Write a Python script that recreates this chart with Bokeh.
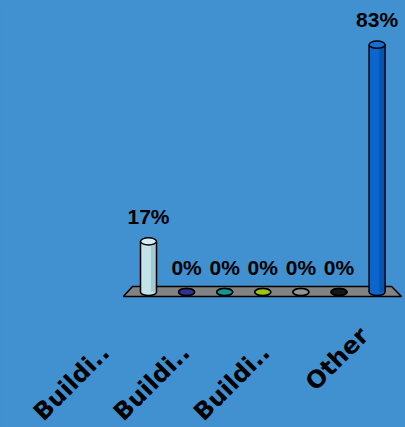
from math import pi
from bokeh.plotting import figure
from bokeh.models import ColumnDataSource
from bokeh.core.properties import value
from bokeh.embed import file_html
from bokeh.resources import INLINE

# ---- data ----
categories = ["Building 1", "Building 2", "Building 3", "Building 4",
              "Building 5", "Building 6", "Other"]
values = [17, 0, 0, 0, 0, 0, 83]
bar_colors = ["#c2e4e8", "#2c2c84", "#128a8a", "#9ab812", "#8a8a8a", "#111111", "#0a66cc"]
shade_colors = ["#a2cad2", "#22226c", "#0c7070", "#7e9a0c", "#727272", "#000000", "#0654b0"]
top_colors = ["#d4eef0", "#33338e", "#159494", "#a2c016", "#949494", "#161616", "#1470d4"]
tick_positions = [1, 3, 5, 7]
tick_labels = ["Buildi..", "Buildi..", "Buildi..", "Other"]

BG = "#4190d0"
n = len(categories)
xs = list(range(1, n + 1))

p = figure(width=405, height=427, output_backend="svg", toolbar_location=None,
           x_range=(-2.8845, 7.7454), y_range=(-45.47, 97.82),
           x_axis_type=None, y_axis_type=None, min_border=0)
p.background_fill_color = BG
p.border_fill_color = BG
p.outline_line_color = None
p.grid.visible = False

# floor (3D base plane)
p.patch([1 - 0.66, 1 - 0.42, n + 0.38, n + 0.64], [-1.5, 1.85, 1.85, -1.5],
        fill_color="#828282", line_color="black", line_width=1.5)

hw = 0.21   # half width of cylinder in x units
eh = 2.4    # ellipse height in y units
src = ColumnDataSource(dict(
    x=xs, v=values, zero=[0] * n,
    left=[x - hw for x in xs], right=[x + hw for x in xs],
    sl=[x + 0.06 for x in xs],
    color=bar_colors, shade=shade_colors, top=top_colors,
    lab=[f"{v}%" for v in values],
))

p.ellipse(x="x", y="zero", width=2 * hw, height=eh, source=src,
          fill_color="color", line_color="black", line_width=1.5)
p.quad(left="left", right="right", bottom="zero", top="v", source=src,
       fill_color="color", line_color=None)
p.quad(left="sl", right="right", bottom="zero", top="v", source=src,
       fill_color="shade", line_color=None)
p.segment(x0="left", y0="zero", x1="left", y1="v", source=src,
          line_color="black", line_width=1.5)
p.segment(x0="right", y0="zero", x1="right", y1="v", source=src,
          line_color="black", line_width=1.5)
p.ellipse(x="x", y="v", width=2 * hw, height=eh, source=src,
          fill_color="top", line_color="black", line_width=1.5)

# value labels
p.text(x="x", y="v", text="lab", source=src, text_align="center",
       text_baseline="alphabetic", y_offset=-25,
       text_font=value("Liberation Sans"), text_font_style="bold",
       text_font_size="21px", text_color="black")

# category labels (rotated)
lab_dx = [-77, -73, -69, -40]
lab_dy = [90.5, 90.5, 90.5, 67]
lsrc = ColumnDataSource(dict(x=tick_positions, y=[0] * len(tick_positions),
                             text=tick_labels, dx=lab_dx, dy=lab_dy))
p.text(x="x", y="y", text="text", source=lsrc, x_offset="dx", y_offset="dy",
       angle=pi / 4, text_align="center", text_baseline="middle",
       text_font=value("DejaVu Sans"), text_font_style="bold",
       text_font_size="24px", text_color="black")

html = file_html(p, INLINE)
html = html.replace("</head>", "<style>html,body{background-color:%s;}</style></head>" % BG, 1)
open("out.html", "w").write(html)
